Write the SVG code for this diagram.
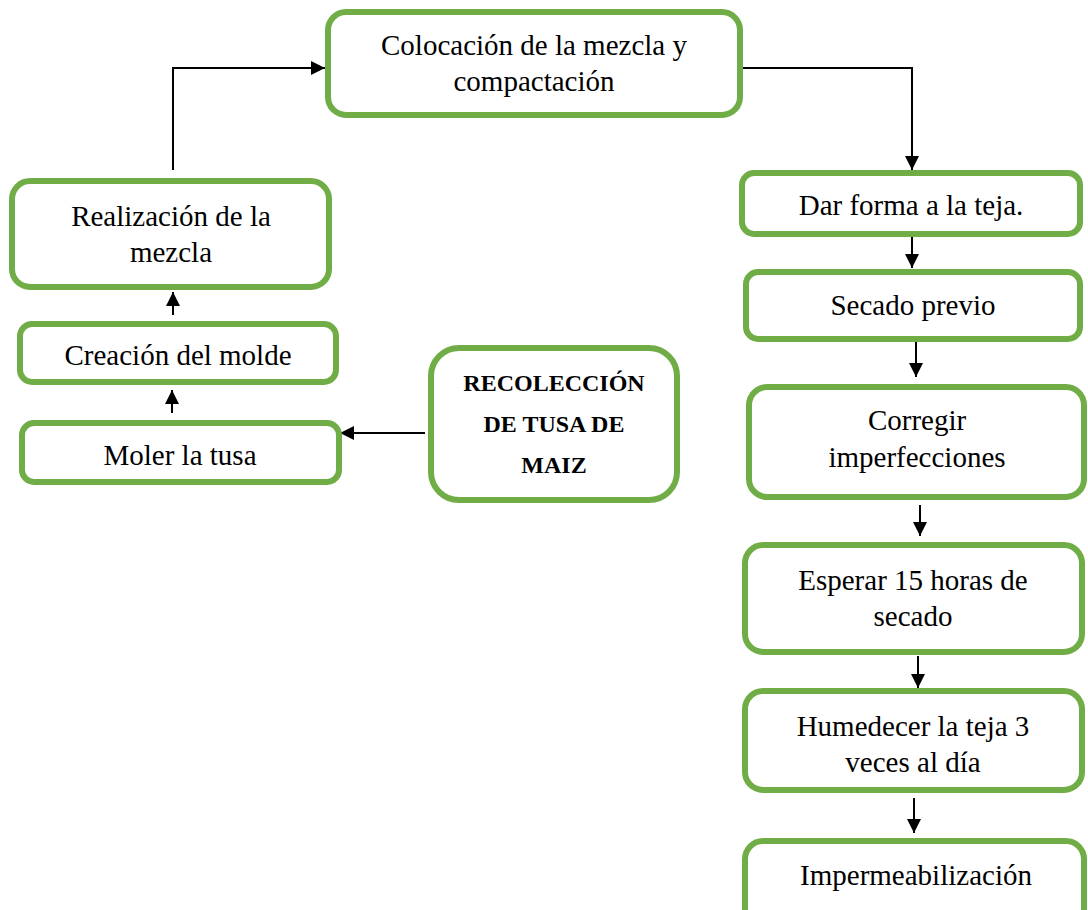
<svg xmlns="http://www.w3.org/2000/svg" width="1088" height="910" viewBox="0 0 1088 910">
<style>
.box{fill:#fff;stroke:#70AD47;stroke-width:6}
.t{font-family:"Liberation Serif","Times New Roman",serif;font-size:29px;fill:#000;text-anchor:middle}
.b{font-family:"Liberation Serif","Times New Roman",serif;font-size:24px;font-weight:bold;fill:#000;text-anchor:middle}
.c{fill:none;stroke:#000;stroke-width:2}
</style>
<defs>
<marker id="ah" markerUnits="userSpaceOnUse" markerWidth="16" markerHeight="16" refX="14" refY="7" orient="auto">
<path d="M0,0 L14,7 L0,14 Z" fill="#000"/>
</marker>
</defs>
<rect width="1088" height="910" fill="#fff"/>
<g id="connectors">
<path class="c" d="M173,170 V68 H325" marker-end="url(#ah)"/>
<path class="c" d="M743,68 H912 V170" marker-end="url(#ah)"/>
<path class="c" d="M912,237 V268" marker-end="url(#ah)"/>
<path class="c" d="M916,342 V377" marker-end="url(#ah)"/>
<path class="c" d="M920,505 V536" marker-end="url(#ah)"/>
<path class="c" d="M918,656 V688" marker-end="url(#ah)"/>
<path class="c" d="M914,798 V833" marker-end="url(#ah)"/>
<path class="c" d="M173,315 V292" marker-end="url(#ah)"/>
<path class="c" d="M172,413 V390" marker-end="url(#ah)"/>
<path class="c" d="M425,433 H340" marker-end="url(#ah)"/>
</g>
<g id="n-colocacion">
<rect class="box" x="328" y="12" width="412" height="103" rx="18"/>
<text class="t" x="534" y="55">Colocación de la mezcla y</text>
<text class="t" x="534" y="91">compactación</text>
</g>
<g id="n-realizacion">
<rect class="box" x="12" y="181" width="317" height="106" rx="18"/>
<text class="t" x="171" y="226">Realización de la</text>
<text class="t" x="171" y="262">mezcla</text>
</g>
<g id="n-creacion">
<rect class="box" x="20" y="324" width="316" height="58" rx="12"/>
<text class="t" x="178" y="365">Creación del molde</text>
</g>
<g id="n-moler">
<rect class="box" x="22" y="423" width="317" height="59" rx="12"/>
<text class="t" x="180" y="465">Moler la tusa</text>
</g>
<g id="n-recoleccion">
<rect class="box" x="431" y="348" width="246" height="152" rx="28"/>
<text class="b" x="554" y="391">RECOLECCIÓN</text>
<text class="b" x="554" y="432">DE TUSA DE</text>
<text class="b" x="554" y="473">MAIZ</text>
</g>
<g id="n-darforma">
<rect class="box" x="742" y="173" width="338" height="61" rx="12"/>
<text class="t" x="911" y="215">Dar forma a la teja.</text>
</g>
<g id="n-secado">
<rect class="box" x="746" y="272" width="334" height="67" rx="12"/>
<text class="t" x="913" y="315">Secado previo</text>
</g>
<g id="n-corregir">
<rect class="box" x="749" y="387" width="335" height="110" rx="18"/>
<text class="t" x="917" y="430">Corregir</text>
<text class="t" x="917" y="467">imperfecciones</text>
</g>
<g id="n-esperar">
<rect class="box" x="745" y="545" width="337" height="107" rx="18"/>
<text class="t" x="913" y="590">Esperar 15 horas de</text>
<text class="t" x="913" y="626">secado</text>
</g>
<g id="n-humedecer">
<rect class="box" x="745" y="691" width="337" height="99" rx="18"/>
<text class="t" x="913" y="736">Humedecer la teja 3</text>
<text class="t" x="913" y="772">veces al día</text>
</g>
<g id="n-impermeabilizacion">
<rect class="box" x="745" y="841" width="339" height="90" rx="18"/>
<text class="t" x="916" y="885">Impermeabilización</text>
</g>
</svg>
